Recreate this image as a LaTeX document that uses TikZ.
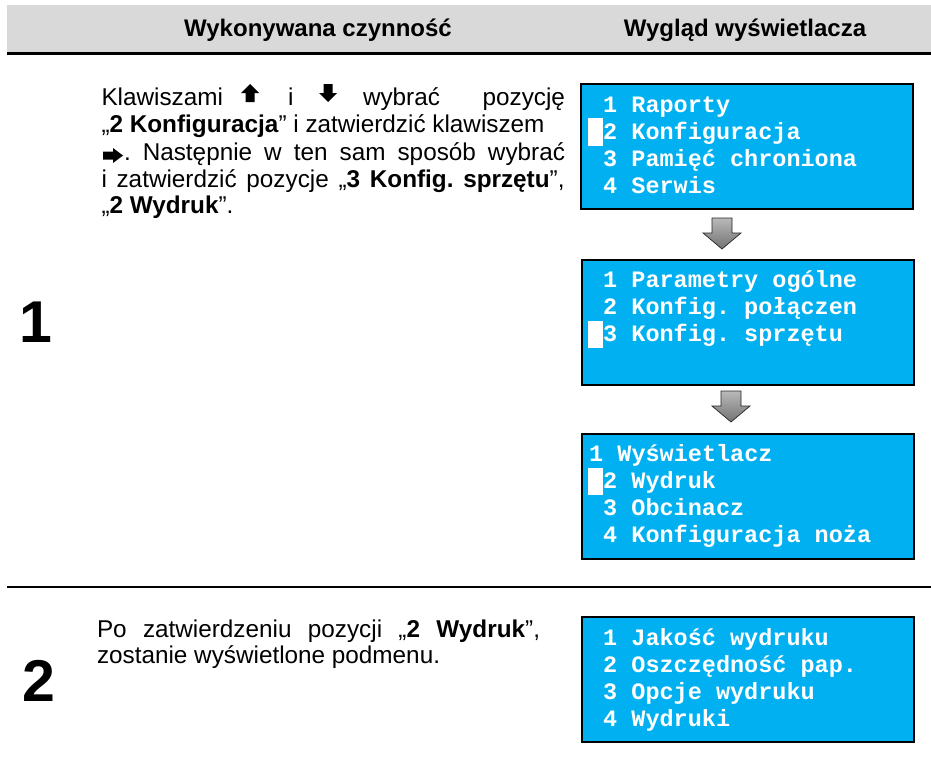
\documentclass[tikz,border=0pt]{standalone}
\usepackage{fontspec}
\setmainfont{Liberation Sans}
\newfontfamily\lcdfont{Liberation Mono}
\definecolor{lcdblue}{HTML}{00B0F0}
\definecolor{hdrgray}{HTML}{D9D9D9}
\frenchspacing
\begin{document}
\begin{tikzpicture}[x=1pt,y=-1pt,
  txt/.style={inner sep=0pt, outer sep=0pt, anchor=base west, font=\fontsize{24.3}{27}\selectfont\frenchspacing},
  hdr/.style={inner sep=0pt, anchor=base, font=\fontsize{24}{27}\selectfont\bfseries},
  bignum/.style={inner sep=0pt, anchor=base west, font=\fontsize{59}{60}\selectfont\bfseries},
  lcdbox/.style={draw=black, line width=2pt, fill=lcdblue, minimum width=332pt, minimum height=125pt, inner sep=0pt, anchor=north west},
  lcd/.style={inner sep=0pt, anchor=base west, text=white, font=\fontsize{23.5}{27}\selectfont\lcdfont\bfseries},
  cursor/.style={fill=white},
  keyarrow/.style={fill=black},
  flowarrow/.style={draw=black!85, line width=0.7pt, top color=gray!55, bottom color=black!55},
  rule/.style={line width=2.5pt}
]
\useasboundingbox (0,0) rectangle (931,766);
% header
\fill[hdrgray] (7,5) rectangle (931,52);
\draw[rule] (7,53.5) -- (931,53.5);
\node[hdr] (h1) at (318,36) {Wykonywana czynność};
\node[hdr] (h2) at (745,36) {Wygląd wyświetlacza};
% step 1
\node[bignum] (n1) at (19,342) {1};
\node[txt] (t1a) at (101.5,105) {Klawiszami};
\fill[keyarrow] (250,84) -- (259,93) -- (254.5,93) -- (254.5,102) -- (245.5,102) -- (245.5,93) -- (241,93) -- cycle;
\node[txt] (t1b) at (288,105) {i};
\fill[keyarrow] (323.5,84) -- (332.5,84) -- (332.5,93) -- (337,93) -- (328,102) -- (319,93) -- (323.5,93) -- cycle;
\node[txt] (t1c) at (363,105) {wybrać};
\node[txt, anchor=base east] (t1d) at (565,105) {pozycję};
\node[txt] (t2) at (101.5,132) {„\textbf{2 Konfiguracja}” i zatwierdzić klawiszem};
\fill[keyarrow] (103,151.5) -- (113,151.5) -- (113,148) -- (123,155.5) -- (113,163) -- (113,159.5) -- (103,159.5) -- cycle;
\node[txt] (t3) at (124,160) {\makebox[441pt][s]{. Następnie w ten sam sposób wybrać}};
\node[txt] (t4) at (101.5,187) {\makebox[463pt][s]{i zatwierdzić pozycje „\textbf{3 Konfig. sprzętu}”,}};
\node[txt] (t5) at (101.5,213) {„\textbf{2 Wydruk}”.};
% displays step 1
\node[lcdbox] (d1) at (580,83) {};
\fill[cursor] (588,118) rectangle (603,146);
\node[lcd] (d1a) at (603,112) {1 Raporty};
\node[lcd] (d1b) at (603,139) {2 Konfiguracja};
\node[lcd] (d1c) at (603,166) {3 Pamięć chroniona};
\node[lcd] (d1d) at (603,193) {4 Serwis};
\path[flowarrow] (712,218) -- (732,218) -- (732,233) -- (741,233) -- (722,249) -- (703,233) -- (712,233) -- cycle;
\node[lcdbox] (d2) at (581,259) {};
\fill[cursor] (588,321) rectangle (603,348);
\node[lcd] (d2a) at (603,287) {1 Parametry ogólne};
\node[lcd] (d2b) at (603,314) {2 Konfig. połączen};
\node[lcd] (d2c) at (603,341) {3 Konfig. sprzętu};
\path[flowarrow] (721,391) -- (741,391) -- (741,406) -- (750,406) -- (731,422) -- (712,406) -- (721,406) -- cycle;
\node[lcdbox] (d3) at (581,433) {};
\fill[cursor] (588,468) rectangle (603,495);
\node[lcd] (d3a) at (589,461) {1 Wyświetlacz};
\node[lcd] (d3b) at (603,488) {2 Wydruk};
\node[lcd] (d3c) at (603,515) {3 Obcinacz};
\node[lcd] (d3d) at (603,542) {4 Konfiguracja noża};
% separator
\draw[rule] (7,587) -- (931,587);
% step 2
\node[bignum] (n2) at (22,701) {2};
\node[txt] (s1) at (97,637) {\makebox[443pt][s]{Po zatwierdzeniu pozycji „\textbf{2 Wydruk}”,}};
\node[txt] (s2) at (97,663) {zostanie wyświetlone podmenu.};
\node[lcdbox] (d4) at (581,616) {};
\node[lcd] (d4a) at (603,645) {1 Jakość wydruku};
\node[lcd] (d4b) at (603,672) {2 Oszczędność pap.};
\node[lcd] (d4c) at (603,699) {3 Opcje wydruku};
\node[lcd] (d4d) at (603,726) {4 Wydruki};
\end{tikzpicture}
\end{document}
